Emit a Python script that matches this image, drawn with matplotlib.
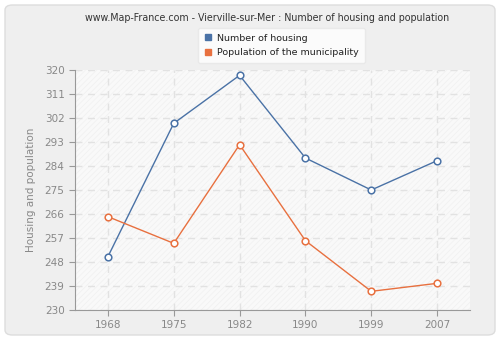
import matplotlib
matplotlib.use("Agg")
import matplotlib.pyplot as plt
from matplotlib.patches import FancyBboxPatch
from matplotlib.lines import Line2D

years = ["1968", "1975", "1982", "1990", "1999", "2007"]
housing = [250, 300, 318, 287, 275, 286]
population = [265, 255, 292, 256, 237, 240]
yticks = [230, 239, 248, 257, 266, 275, 284, 293, 302, 311, 320]

blue = "#4a72a6"
orange = "#e8703f"
plt.rcParams['hatch.linewidth'] = 0.5

fig = plt.figure(figsize=(5, 3.4), dpi=100)
fig.patch.set_facecolor("white")
bg = FancyBboxPatch((5/500, 5/340), 490/500, 330/340,
                    boxstyle="round,pad=0,rounding_size=0.015",
                    transform=fig.transFigure, facecolor="#efefef",
                    edgecolor="#dddddd", linewidth=1, zorder=-10)
fig.patches.append(bg)

ax = fig.add_axes([75/500, 30/340, 395/500, 240/340])
ax.set_zorder(1)
ax.set_facecolor("#f9f9f9")
ax.patch.set_hatch("//////")
ax.patch.set_edgecolor("#f0f0f0")
ax.patch.set_linewidth(0)

x = list(range(len(years)))
ax.plot(x, housing, color=blue, lw=1, marker="o", ms=4.8, mfc="white",
        mec=blue, mew=1.1, zorder=3)
ax.plot(x, population, color=orange, lw=1, marker="o", ms=4.8, mfc="white",
        mec=orange, mew=1.1, zorder=3)

ax.set_xlim(-0.5, 5.5)
ax.set_ylim(230, 320)
ax.set_xticks(x)
ax.set_xticklabels(years)
ax.set_yticks(yticks)
ax.grid(True, color="#e2e2e2", linestyle=(0, (5, 4)), lw=1)
ax.set_axisbelow(True)
for s in ["top", "right"]:
    ax.spines[s].set_visible(False)
for s in ["left", "bottom"]:
    ax.spines[s].set_color("#999999")
ax.tick_params(colors="#999999", labelcolor="#888888", labelsize=7.5, length=4)
ax.set_ylabel("Housing and population", color="#888888", fontsize=7.5, labelpad=6)

fig.text(0.534, 1 - 18/340, "www.Map-France.com - Vierville-sur-Mer : Number of housing and population",
         ha="center", va="center", fontsize=6.85, color="#333333")

handles = [Line2D([], [], ls="", marker="s", ms=4, color=blue),
           Line2D([], [], ls="", marker="s", ms=4, color=orange)]
leg = fig.legend(handles, ["Number of housing", "Population of the municipality"],
                 loc="center", bbox_to_anchor=(281.5/500, 1 - 45.5/340),
                 fontsize=6.8, frameon=True, fancybox=True, handlelength=0.8,
                 handletextpad=0.6, borderpad=0.6, labelspacing=0.6)
leg.get_frame().set_facecolor("white")
leg.get_frame().set_edgecolor("#e6e6e6")
for t in leg.get_texts():
    t.set_color("#222222")

fig.savefig("out.png", dpi=100)
